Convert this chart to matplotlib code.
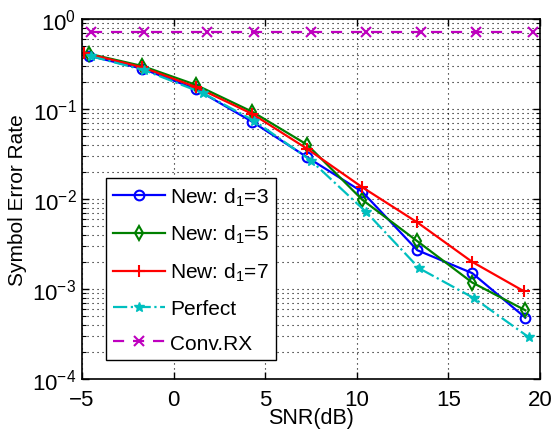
import matplotlib
matplotlib.use("Agg")
import matplotlib.pyplot as plt
from matplotlib.ticker import LogLocator, NullLocator, NullFormatter

plt.rcParams.update(
    {
        "font.family": ["Liberation Sans", "DejaVu Sans"],
        "mathtext.fontset": "custom",
        "mathtext.rm": "Liberation Sans",
        "mathtext.it": "Liberation Sans:italic",
        "mathtext.default": "regular",
        "font.size": 15,
    }
)

# Values
snr_new = [-4.6, -1.7, 1.2, 4.3, 7.3, 10.3, 13.3, 16.3, 19.2]
snr_red = [-4.9, -1.7, 1.2, 4.3, 7.3, 10.3, 13.3, 16.3, 19.1]
snr_perfect = [-4.5, -1.6, 1.6, 4.4, 7.5, 10.5, 13.4, 16.4, 19.4]
snr_conv = [-4.5, -1.6, 1.8, 4.4, 7.5, 10.5, 13.5, 16.5, 19.6]

ser_d3 = [0.39, 0.28, 0.167, 0.072, 0.029, 0.012, 0.0027, 0.0015, 0.00048]
ser_d5 = [0.41, 0.30, 0.186, 0.093, 0.040, 0.0098, 0.0034, 0.00118, 0.00058]
ser_d7 = [0.42, 0.29, 0.176, 0.088, 0.036, 0.0135, 0.0055, 0.0020, 0.00095]
ser_perfect = [0.385, 0.27, 0.15, 0.074, 0.0267, 0.0072, 0.0017, 0.00079, 0.00029]
ser_conv = [0.72, 0.72, 0.72, 0.72, 0.72, 0.72, 0.72, 0.72, 0.72]

labels = ["New: d$_1$=3", "New: d$_1$=5", "New: d$_1$=7", "Perfect", "Conv.RX"]

fig = plt.figure(figsize=(5.52, 4.31), dpi=100)
ax = fig.add_axes([0.1486, 0.1183, 0.8297, 0.8353])

ax.semilogy(snr_new, ser_d3, color="#0000ff", marker="o", mfc="none", mew=1.5,
            ms=7, lw=1.6, label=labels[0])
ax.semilogy(snr_new, ser_d5, color="#008000", marker="d", mfc="none", mew=1.5,
            ms=7, lw=1.6, label=labels[1])
ax.semilogy(snr_red, ser_d7, color="#ff0000", marker="+", mew=1.5,
            ms=9, lw=1.6, label=labels[2])
ax.semilogy(snr_perfect, ser_perfect, color="#00bfbf", marker="*", ls="-.",
            ms=7, lw=1.6, label=labels[3])
ax.semilogy(snr_conv, ser_conv, color="#bf00bf", marker="x", ls="--", mew=1.5,
            ms=7, lw=1.6, dashes=(5, 4), label=labels[4])

ax.set_xlim(-5, 20)
ax.set_ylim(1e-4, 1)
ax.set_xticks([-5, 0, 5, 10, 15, 20])
ax.set_xticklabels(["\u22125", "0", "5", "10", "15", "20"])
ax.xaxis.set_minor_locator(NullLocator())
ax.yaxis.set_major_locator(LogLocator(base=10, numticks=10))
ax.yaxis.set_minor_locator(LogLocator(base=10, subs=range(2, 10), numticks=20))
ax.yaxis.set_minor_formatter(NullFormatter())

ax.grid(True, which="major", color="black", ls=(0, (1, 3.5)), lw=0.8)
ax.grid(True, which="minor", axis="y", color="black", ls=(0, (1, 3.5)), lw=0.8)
ax.tick_params(which="both", direction="in", top=True, right=True, labelsize=16)
ax.tick_params(axis="x", pad=7)
ax.tick_params(axis="y", pad=4)
ax.tick_params(which="major", length=5, width=1)
ax.tick_params(which="minor", length=3, width=0.8)
for spine in ax.spines.values():
    spine.set_linewidth(1.2)

ax.set_xlabel("SNR(dB)", fontsize=15.5, labelpad=-2)
ax.set_ylabel("Symbol Error Rate", fontsize=15, labelpad=4)

leg = ax.legend(loc="lower left", bbox_to_anchor=(0.052, 0.053), fancybox=False,
                edgecolor="black", framealpha=1, fontsize=15, handlelength=2.5,
                labelspacing=0.75, borderpad=0.35, handletextpad=0.25,
                borderaxespad=0)
leg.get_frame().set_linewidth(1.0)

fig.savefig("out.png", dpi=100)
